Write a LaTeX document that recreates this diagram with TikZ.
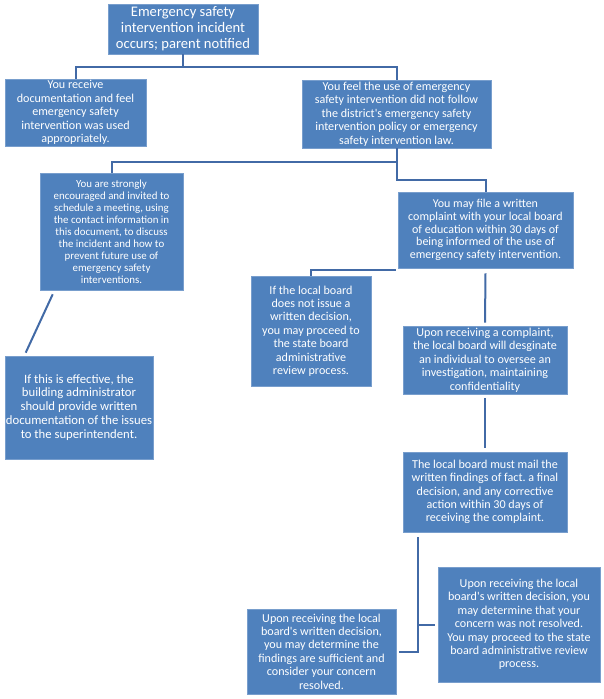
\documentclass[tikz,border=0pt]{standalone}
\usepackage{fontspec}
\setmainfont{Carlito}
\frenchspacing
\definecolor{boxfill}{RGB}{79,129,189}
\definecolor{boxline}{RGB}{120,158,205}
\definecolor{conn}{RGB}{66,106,166}
\begin{document}
\begin{tikzpicture}[x=1pt,y=-1pt,
  box/.style={fill=boxfill,draw=boxline,line width=0.6pt,text=white,align=center,inner sep=0pt},
  fa/.style={font=\fontsize{12.1}{13.4}\selectfont},
  conn/.style={draw=conn,line width=2pt}]
\useasboundingbox (0,0) rectangle (603,699);
\fill[white] (0,0) rectangle (603,699);

\node[box,minimum width=150pt,minimum height=50pt,font=\fontsize{14.6}{16}\selectfont] (b1) at (183,29)
  {Emergency safety\\intervention incident\\occurs; parent notified};
\node[box,fa,minimum width=141pt,minimum height=67pt] (b2) at (75.5,112.5)
  {You receive\\documentation and feel\\emergency safety\\intervention was used\\appropriately.};
\node[box,fa,minimum width=189pt,minimum height=68pt] (b3) at (396.5,114)
  {You feel the use of emergency\\safety intervention did not follow\\the district\textquotesingle s emergency safety\\intervention policy or emergency\\safety intervention law.};
\node[box,minimum width=143pt,minimum height=117pt,font=\fontsize{10.9}{12}\selectfont] (b4) at (111.5,231.5)
  {You are strongly\\encouraged and invited to\\schedule a meeting, using\\the contact information in\\this document, to discuss\\the incident and how to\\prevent future use of\\emergency safety\\interventions.};
\node[box,minimum width=175pt,minimum height=76pt,font=\fontsize{12}{12.6}\selectfont] (b5) at (485.5,230)
  {You may file a written\\complaint with your local board\\of education within 30 days of\\being informed of the use of\\emergency safety intervention.};
\node[box,fa,minimum width=120pt,minimum height=110pt] (b6) at (311,331)
  {If the local board\\does not issue a\\written decision,\\you may proceed to\\the state board\\administrative\\review process.};
\node[box,fa,minimum width=164pt,minimum height=68pt] (b7) at (485,360)
  {Upon receiving a complaint,\\the local board will desginate\\an individual to oversee an\\investigation, maintaining\\confidentiality};
\node[box,fa,minimum width=164pt,minimum height=80pt] (b8) at (485,492)
  {The local board must mail the\\written findings of fact. a final\\decision, and any corrective\\action within 30 days of\\receiving the complaint.};
\node[box,minimum width=148pt,minimum height=103pt,font=\fontsize{12.7}{13.9}\selectfont] (b9) at (79,407.5)
  {If this is effective, the\\building administrator\\should provide written\\documentation of the issues\\to the superintendent.};
\node[box,fa,minimum width=149pt,minimum height=85pt] (b10) at (321.5,651.5)
  {Upon receiving the local\\board\textquotesingle s written decision,\\you may determine the\\findings are sufficient and\\consider your concern\\resolved.};
\node[box,fa,minimum width=162pt,minimum height=115pt] (b11) at (519,624.5)
  {Upon receiving the local\\board\textquotesingle s written decision, you\\may determine that your\\concern was not resolved.\\You may proceed to the state\\board administrative review\\process.};

% connectors
\draw[conn] (b1.south) -- ++(0,13) -| (b2.north);
\draw[conn] (b1.south) -- ++(0,13) -| (b3.north);
\draw[conn] (b3.south) -- ++(0,14) -| (b4.north);
\draw[conn] (b3.south) -- ++(0,32) -| (b5.north);
\draw[conn] ([xshift=-2pt,yshift=-2pt]b5.south west) -| (b6.north);
\draw[conn] ([yshift=-5pt]b5.south) -- ([yshift=3pt]b7.north);
\draw[conn] ([yshift=-4pt]b7.south) -- ([yshift=4pt]b8.north);
\coordinate (t) at ([xshift=15pt,yshift=-5pt]b8.south west);
\draw[conn] (t) |- ([xshift=3pt]b10.east);
\draw[conn] (t) |- ([xshift=-3pt]b11.west);
\draw[conn] ([xshift=13pt,yshift=-4pt]b4.south west) -- ([xshift=21pt,yshift=3pt]b9.north west);
\end{tikzpicture}
\end{document}
